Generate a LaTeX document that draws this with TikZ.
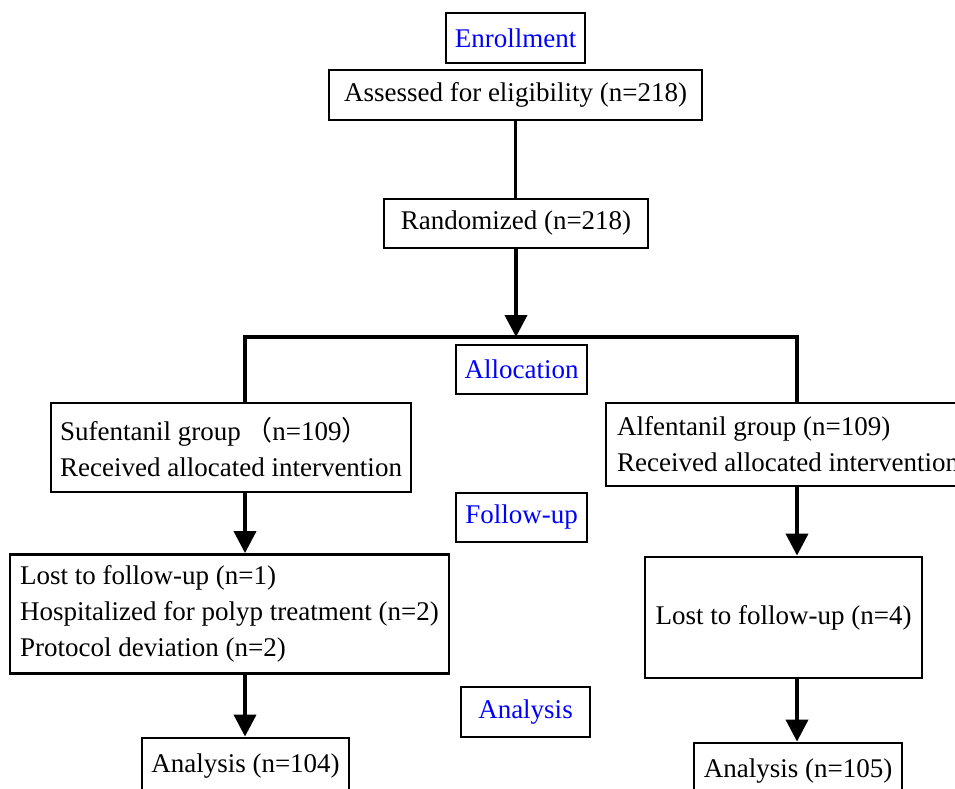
\documentclass[tikz,border=0pt]{standalone}
\usepackage{fontspec}
\setmainfont{Liberation Serif}
\newfontfamily\cjk{Noto Sans CJK SC}
\usetikzlibrary{arrows.meta}
\definecolor{lblblue}{RGB}{0,0,255}
\tikzset{
  box/.style={draw, line width=2.8pt, inner sep=0pt, font=\fontsize{27}{36}\selectfont},
  lbl/.style={box, text=lblblue},
  mbox/.style={box, align=left},
  conn/.style={line width=3.8pt},
  arr/.style={conn, -{Triangle[length=22pt,width=22pt]}},
}
\begin{document}
\begin{tikzpicture}[x=1pt,y=-1pt]
\useasboundingbox[fill=white] (0,0) rectangle (955,789);
\clip (0,0) rectangle (955,789);
% labels
\node[lbl, minimum width=139pt, minimum height=50pt] (enr) at (515.5,38) {Enrollment};
\node[lbl, minimum width=131pt, minimum height=49pt] (alloc) at (521.5,369.5) {Allocation};
\node[lbl, minimum width=131pt, minimum height=49pt] (fol) at (521.5,517.5) {Follow-up};
\node[lbl, minimum width=129pt, minimum height=50pt] (ana) at (525.5,712) {Analysis};
% main boxes
\node[box, minimum width=373pt, minimum height=50pt] (asse) at (515.5,95) {Assessed for eligibility (n=218)};
\node[box, minimum width=264pt, minimum height=49pt] (rand) at (516,223.5) {Randomized (n=218)};
\node[mbox, minimum width=360pt, minimum height=89pt] (suf) at (231,447.5)
  {Sufentanil group\,{\cjk （}n=109{\cjk ）}\\Received allocated intervention};
\node[mbox, minimum width=364pt, minimum height=83pt] (alf) at (788,444.5)
  {Alfentanil group (n=109)\\Received allocated intervention};
\node[mbox, minimum width=439pt, minimum height=119pt] (lostL) at (229.5,614)
  {Lost to follow-up (n=1)\\Hospitalized for polyp treatment (n=2)\\Protocol deviation (n=2)};
\node[box, minimum width=277pt, minimum height=121pt] (lostR) at (783.5,617.5) {Lost to follow-up (n=4)};
\node[box, minimum width=207pt, minimum height=56pt] (a104) at (245.5,766) {Analysis (n=104)};
\node[box, minimum width=208pt, minimum height=56pt] (a105) at (798,771) {Analysis (n=105)};
% connectors
\coordinate (bl) at (245,337);
\coordinate (br) at (797,337);
\coordinate (bm) at (rand |- bl);
\draw[conn] (asse) -- (asse |- rand.north);
\draw[arr] (rand) -- (bm);
\draw[conn, line cap=rect] (bl |- suf.north) -- (bl) -- (br) -- (br |- alf.north);
\draw[arr] (bl |- suf.south) -- (bl |- lostL.north);
\draw[arr] (bl |- lostL.south) -- (bl |- a104.north);
\draw[arr] (br |- alf.south) -- (br |- lostR.north);
\draw[arr] (br |- lostR.south) -- (br |- a105.north);
\end{tikzpicture}
\end{document}
